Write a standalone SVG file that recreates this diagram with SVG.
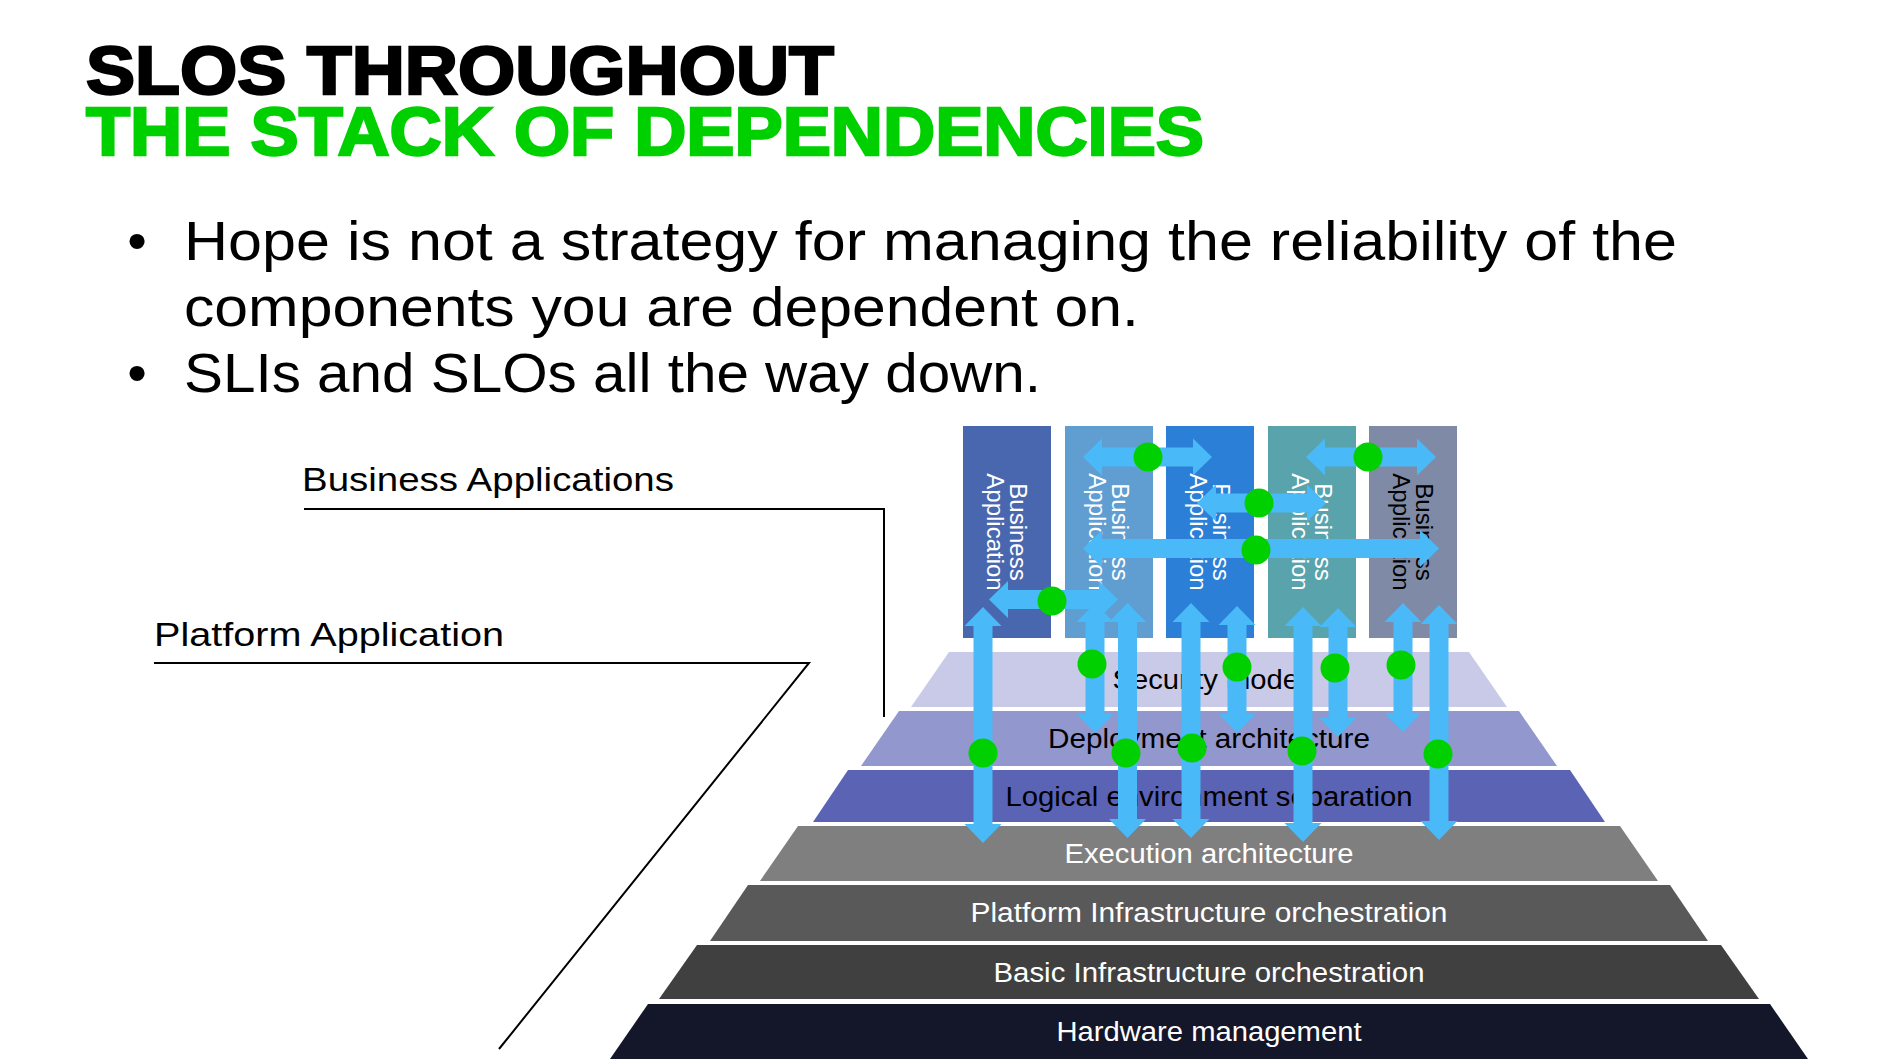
<svg xmlns="http://www.w3.org/2000/svg" width="1904" height="1062" viewBox="0 0 1904 1062">
  <style>
    .title { font-family: "Liberation Sans", Arial, sans-serif; font-weight: 700; font-size: 69px; stroke-width: 2.4px; }
    .bullet { font-family: "Liberation Sans", Arial, sans-serif; font-size: 56px; fill: #000; }
    .label { font-family: "Liberation Sans", Arial, sans-serif; font-size: 33px; fill: #000; }
    .layer-text { font-family: "Liberation Sans", Arial, sans-serif; font-size: 27px; text-anchor: middle; }
    .app-text { font-family: "Liberation Sans", Arial, sans-serif; font-size: 24px; text-anchor: middle; }
    .leader { fill: none; stroke: #000; stroke-width: 2; }
    .arrow { fill: #4ab9f7; }
    .dot { fill: #00d000; }
  </style>

  <!-- Heading -->
  <g id="heading">
    <text class="title" x="86" y="94" fill="#000" stroke="#000" textLength="748" lengthAdjust="spacingAndGlyphs">SLOS THROUGHOUT</text>
    <text class="title" x="86" y="155" fill="#00d000" stroke="#00d000" textLength="1118" lengthAdjust="spacingAndGlyphs">THE STACK OF DEPENDENCIES</text>
  </g>

  <!-- Bullet points -->
  <g id="bullets">
    <text class="bullet" x="137" y="260" text-anchor="middle">•</text>
    <text class="bullet" x="184" y="260" textLength="1493" lengthAdjust="spacingAndGlyphs">Hope is not a strategy for managing the reliability of the</text>
    <text class="bullet" x="184" y="326" textLength="955" lengthAdjust="spacingAndGlyphs">components you are dependent on.</text>
    <text class="bullet" x="137" y="392" text-anchor="middle">•</text>
    <text class="bullet" x="184" y="392" textLength="857" lengthAdjust="spacingAndGlyphs">SLIs and SLOs all the way down.</text>
  </g>

  <!-- Side labels with leader lines -->
  <g id="label-business">
    <text class="label" x="302" y="491" textLength="372" lengthAdjust="spacingAndGlyphs">Business Applications</text>
    <polyline class="leader" points="304,509 884,509 884,717"/>
  </g>
  <g id="label-platform">
    <text class="label" x="154" y="646" textLength="350" lengthAdjust="spacingAndGlyphs">Platform Application</text>
    <polyline class="leader" points="154,663 809,663 499,1049"/>
  </g>

  <!-- Pyramid layers, top to bottom -->
  <g id="layer-security">
    <polygon points="949,652 1469,652 1507,707 911,707" fill="#c9cae7"/>
    <text class="layer-text" x="1209" y="689" fill="#000" textLength="193" lengthAdjust="spacingAndGlyphs">Security model</text>
  </g>
  <g id="layer-deployment">
    <polygon points="899,711 1519,711 1557,766 861,766" fill="#9297cd"/>
    <text class="layer-text" x="1209" y="748" fill="#000" textLength="322" lengthAdjust="spacingAndGlyphs">Deployment architecture</text>
  </g>
  <g id="layer-logical">
    <polygon points="848,770 1570,770 1605,822 813,822" fill="#5b63b5"/>
    <text class="layer-text" x="1209" y="806" fill="#000" textLength="407" lengthAdjust="spacingAndGlyphs">Logical environment separation</text>
  </g>
  <g id="layer-execution">
    <polygon points="798,826 1620,826 1658,881 760,881" fill="#7f7f7f"/>
    <text class="layer-text" x="1209" y="863" fill="#fff" textLength="289" lengthAdjust="spacingAndGlyphs">Execution architecture</text>
  </g>
  <g id="layer-platform-infra">
    <polygon points="748,885 1670,885 1708,941 710,941" fill="#595959"/>
    <text class="layer-text" x="1209" y="922" fill="#fff" textLength="477" lengthAdjust="spacingAndGlyphs">Platform Infrastructure orchestration</text>
  </g>
  <g id="layer-basic-infra">
    <polygon points="697,945 1721,945 1759,999 659,999" fill="#404040"/>
    <text class="layer-text" x="1209" y="982" fill="#fff" textLength="431" lengthAdjust="spacingAndGlyphs">Basic Infrastructure orchestration</text>
  </g>
  <g id="layer-hardware">
    <polygon points="648,1004 1770,1004 1808,1059 610,1059" fill="#141629"/>
    <text class="layer-text" x="1209" y="1041" fill="#fff" textLength="305" lengthAdjust="spacingAndGlyphs">Hardware management</text>
  </g>

  <!-- Business application columns -->
  <g id="app-1">
    <rect x="963" y="426" width="88" height="212" fill="#4967ae"/>
    <text class="app-text" transform="translate(1007,532) rotate(90)" fill="#fff"><tspan x="0" y="-3">Business</tspan><tspan x="0" y="20">Application</tspan></text>
  </g>
  <g id="app-2">
    <rect x="1065" y="426" width="88" height="212" fill="#609ed1"/>
    <text class="app-text" transform="translate(1109,532) rotate(90)" fill="#fff"><tspan x="0" y="-3">Business</tspan><tspan x="0" y="20">Application</tspan></text>
  </g>
  <g id="app-3">
    <rect x="1166" y="426" width="88" height="212" fill="#2b7fd6"/>
    <text class="app-text" transform="translate(1210,532) rotate(90)" fill="#fff"><tspan x="0" y="-3">Business</tspan><tspan x="0" y="20">Application</tspan></text>
  </g>
  <g id="app-4">
    <rect x="1268" y="426" width="88" height="212" fill="#59a3ac"/>
    <text class="app-text" transform="translate(1312,532) rotate(90)" fill="#fff"><tspan x="0" y="-3">Business</tspan><tspan x="0" y="20">Application</tspan></text>
  </g>
  <g id="app-5">
    <rect x="1369" y="426" width="88" height="212" fill="#7f8ba6"/>
    <text class="app-text" transform="translate(1413,532) rotate(90)" fill="#000"><tspan x="0" y="-3">Business</tspan><tspan x="0" y="20">Application</tspan></text>
  </g>

  <!-- Dependency connectors: double-headed block arrows -->
  <g id="connectors">
    <!-- horizontal, between applications -->
    <path class="arrow" d="M1083,457 L1102,438.5 L1102,447.5 L1193,447.5 L1193,438.5 L1212,457 L1193,475.5 L1193,466.5 L1102,466.5 L1102,475.5 Z"/>
    <path class="arrow" d="M1306,457 L1325,438.5 L1325,447.5 L1417,447.5 L1417,438.5 L1436,457 L1417,475.5 L1417,466.5 L1325,466.5 L1325,475.5 Z"/>
    <path class="arrow" d="M1197,503 L1216,484.5 L1216,493.5 L1307,493.5 L1307,484.5 L1326,503 L1307,521.5 L1307,512.5 L1216,512.5 L1216,521.5 Z"/>
    <path class="arrow" d="M1083,548.5 L1102,530 L1102,539 L1420,539 L1420,530 L1439,548.5 L1420,567 L1420,558 L1102,558 L1102,567 Z"/>
    <path class="arrow" d="M989,599.5 L1008,581 L1008,590 L1099,590 L1099,581 L1118,599.5 L1099,618 L1099,609 L1008,609 L1008,618 Z"/>
    <!-- vertical, from applications down into the platform layers -->
    <path class="arrow" d="M983,607 L1001.5,626 L992.5,626 L992.5,824 L1001.5,824 L983,843 L964.5,824 L973.5,824 L973.5,626 L964.5,626 Z"/>
    <path class="arrow" d="M1095,603 L1113.5,622 L1104.5,622 L1104.5,714 L1113.5,714 L1095,733 L1076.5,714 L1085.5,714 L1085.5,622 L1076.5,622 Z"/>
    <path class="arrow" d="M1127.5,603 L1146,622 L1137,622 L1137,819 L1146,819 L1127.5,838 L1109,819 L1118,819 L1118,622 L1109,622 Z"/>
    <path class="arrow" d="M1191,603 L1209.5,622 L1200.5,622 L1200.5,819 L1209.5,819 L1191,838 L1172.5,819 L1181.5,819 L1181.5,622 L1172.5,622 Z"/>
    <path class="arrow" d="M1237,606 L1255.5,625 L1246.5,625 L1246.5,714 L1255.5,714 L1237,733 L1218.5,714 L1227.5,714 L1227.5,625 L1218.5,625 Z"/>
    <path class="arrow" d="M1303,607 L1321.5,626 L1312.5,626 L1312.5,823 L1321.5,823 L1303,842 L1284.5,823 L1293.5,823 L1293.5,626 L1284.5,626 Z"/>
    <path class="arrow" d="M1338,608 L1356.5,627 L1347.5,627 L1347.5,718 L1356.5,718 L1338,737 L1319.5,718 L1328.5,718 L1328.5,627 L1319.5,627 Z"/>
    <path class="arrow" d="M1403,603 L1421.5,622 L1412.5,622 L1412.5,713 L1421.5,713 L1403,732 L1384.5,713 L1393.5,713 L1393.5,622 L1384.5,622 Z"/>
    <path class="arrow" d="M1439,605 L1457.5,624 L1448.5,624 L1448.5,821 L1457.5,821 L1439,840 L1420.5,821 L1429.5,821 L1429.5,624 L1420.5,624 Z"/>
    <!-- measurement points (SLIs) on each dependency -->
    <circle class="dot" cx="1148" cy="457" r="14.5"/>
    <circle class="dot" cx="1368" cy="457" r="14.5"/>
    <circle class="dot" cx="1259" cy="503" r="14.5"/>
    <circle class="dot" cx="1256" cy="550" r="14.5"/>
    <circle class="dot" cx="1052" cy="601" r="14.5"/>
    <circle class="dot" cx="983" cy="753" r="14.5"/>
    <circle class="dot" cx="1092" cy="664" r="14.5"/>
    <circle class="dot" cx="1126" cy="753" r="14.5"/>
    <circle class="dot" cx="1192" cy="748" r="14.5"/>
    <circle class="dot" cx="1237" cy="667" r="14.5"/>
    <circle class="dot" cx="1302" cy="751" r="14.5"/>
    <circle class="dot" cx="1335" cy="668" r="14.5"/>
    <circle class="dot" cx="1401" cy="665" r="14.5"/>
    <circle class="dot" cx="1438" cy="754" r="14.5"/>
  </g>
</svg>
